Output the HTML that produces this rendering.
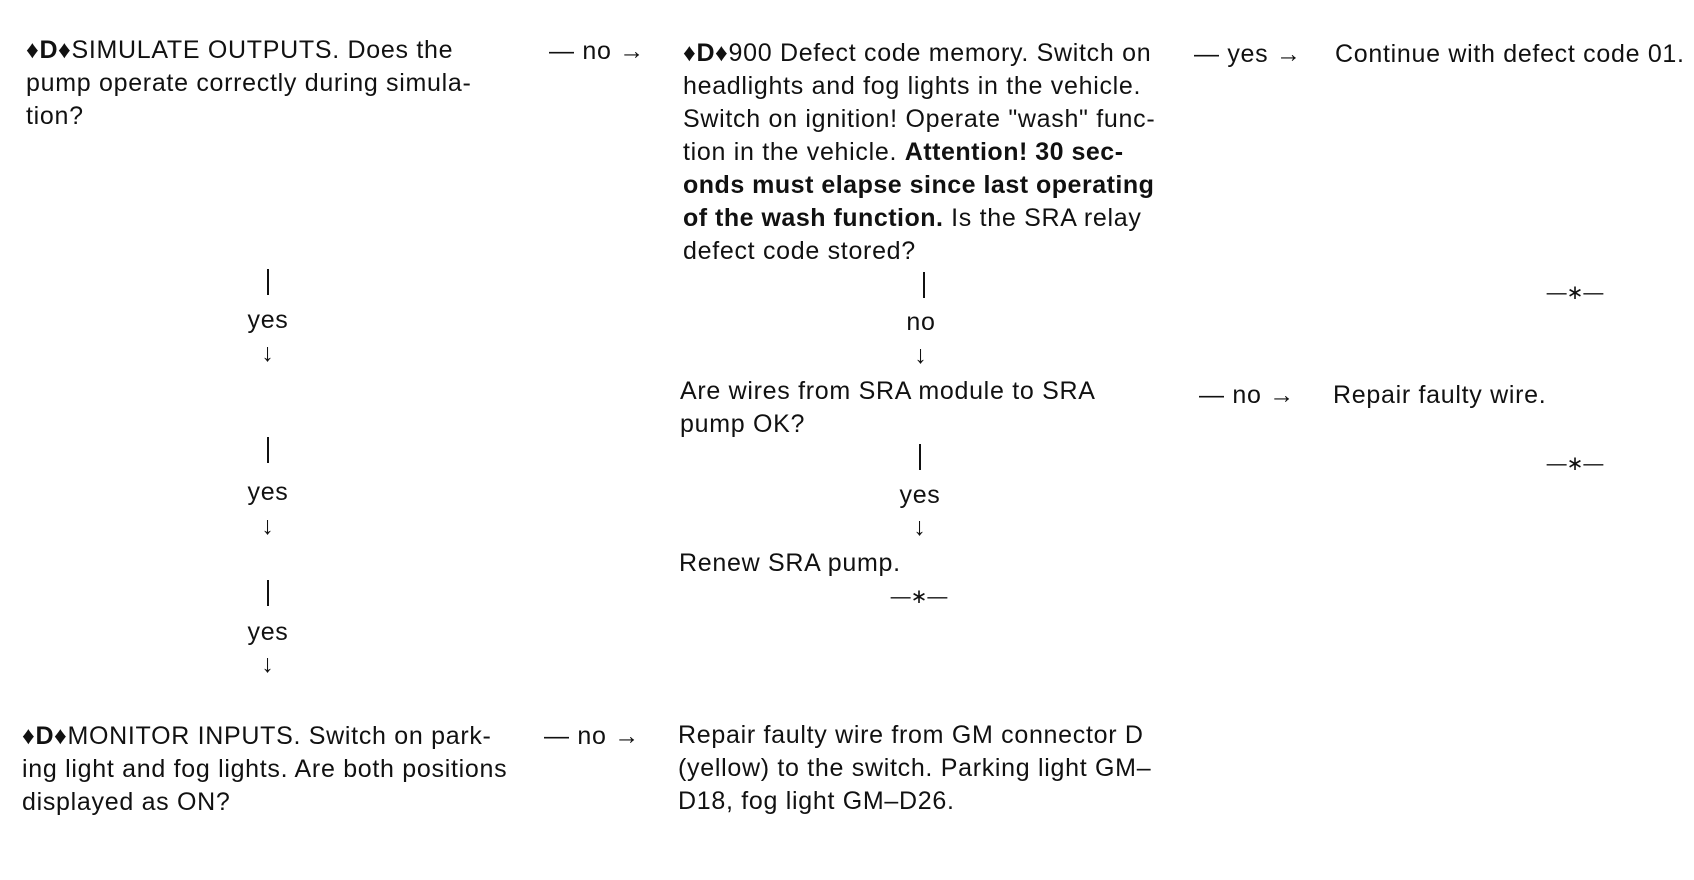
<!DOCTYPE html>
<html><head><meta charset="utf-8"><style>
body{margin:0;width:1694px;height:880px;background:#fff;position:relative;overflow:hidden;font-family:"Liberation Sans",Arial,sans-serif;color:#111;font-size:25px;letter-spacing:0.7px}
.t{position:absolute;white-space:nowrap;line-height:33px}
.c{position:absolute;white-space:nowrap;line-height:33px;transform:translateX(-50%);text-align:center}
b{font-weight:bold;letter-spacing:0.5px}
.v{position:absolute;width:2px;height:26px;background:#111}
.s{font-size:20px;letter-spacing:0}
</style></head><body>

<div class="t" style="left:26px;top:34px">♦<b>D</b>♦SIMULATE OUTPUTS. Does the<br>pump operate correctly during simula-<br>tion?</div>
<div class="t" style="left:549px;top:35px">— no →</div>

<div class="t" style="left:683px;top:37px">♦<b>D</b>♦900 Defect code memory. Switch on<br>headlights and fog lights in the vehicle.<br>Switch on ignition! Operate "wash" func-<br>tion in the vehicle. <b>Attention! 30 sec-<br>onds must elapse since last operating<br>of the wash function.</b> Is the SRA relay<br>defect code stored?</div>
<div class="t" style="left:1194px;top:38px">— yes →</div>
<div class="t" style="left:1335px;top:38px">Continue with defect code 01.</div>

<div class="v" style="left:267px;top:269px"></div>
<div class="c" style="left:268px;top:304px">yes</div>
<div class="c" style="left:268px;top:337px">↓</div>
<div class="v" style="left:267px;top:437px"></div>
<div class="c" style="left:268px;top:476px">yes</div>
<div class="c" style="left:268px;top:510px">↓</div>
<div class="v" style="left:267px;top:580px"></div>
<div class="c" style="left:268px;top:616px">yes</div>
<div class="c" style="left:268px;top:648px">↓</div>

<div class="v" style="left:923px;top:272px"></div>
<div class="c" style="left:921px;top:306px">no</div>
<div class="c" style="left:921px;top:339px">↓</div>
<div class="t" style="left:680px;top:375px">Are wires from SRA module to SRA<br>pump OK?</div>
<div class="t" style="left:1199px;top:379px">— no →</div>
<div class="t" style="left:1333px;top:379px">Repair faulty wire.</div>
<div class="c s" style="left:1575px;top:277px">—∗—</div>
<div class="c s" style="left:1575px;top:448px">—∗—</div>

<div class="v" style="left:919px;top:444px"></div>
<div class="c" style="left:920px;top:479px">yes</div>
<div class="c" style="left:920px;top:511px">↓</div>
<div class="t" style="left:679px;top:547px">Renew SRA pump.</div>
<div class="c s" style="left:919px;top:581px">—∗—</div>

<div class="t" style="left:22px;top:720px">♦<b>D</b>♦MONITOR INPUTS. Switch on park-<br>ing light and fog lights. Are both positions<br>displayed as ON?</div>
<div class="t" style="left:544px;top:720px">— no →</div>
<div class="t" style="left:678px;top:719px">Repair faulty wire from GM connector D<br>(yellow) to the switch. Parking light GM–<br>D18, fog light GM–D26.</div>
</body></html>
